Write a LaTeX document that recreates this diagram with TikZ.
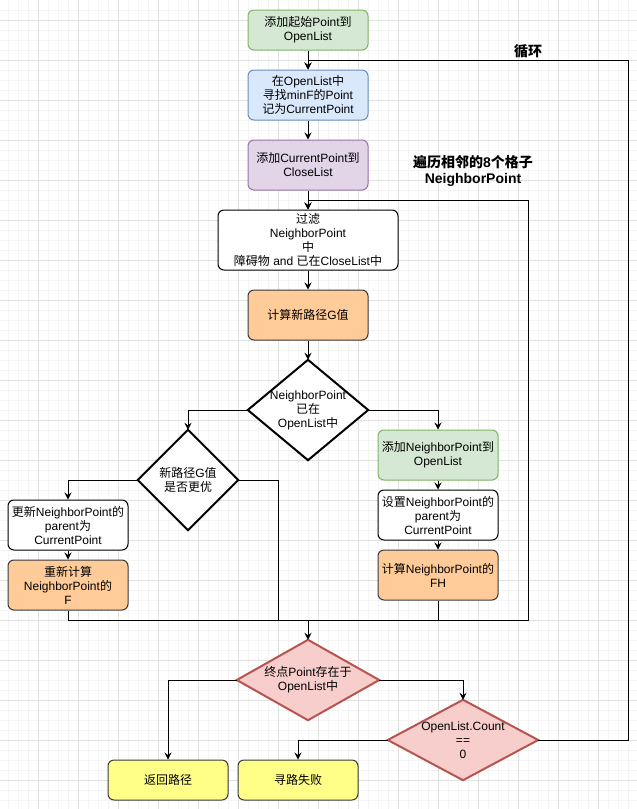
\documentclass[tikz,border=0pt]{standalone}
\usepackage{fontspec}
\setmainfont{Liberation Sans}
\newfontfamily\cjkfont{Noto Sans CJK SC}
\newfontfamily\latfont{Liberation Sans}
\XeTeXinterchartokenstate=1
\newXeTeXintercharclass\cjkcls
\newcount\cjkc
\cjkc="4E00
\loop
  \XeTeXcharclass\cjkc=\cjkcls
  \ifnum\cjkc<"9FFF \advance\cjkc by 1
\repeat
\XeTeXinterchartoks 0 \cjkcls = {\cjkfont}
\XeTeXinterchartoks 4095 \cjkcls = {\cjkfont}
\XeTeXinterchartoks \cjkcls 0 = {\latfont}
\XeTeXinterchartoks \cjkcls 4095 = {\latfont}
\usetikzlibrary{arrows.meta}
\pgfdeclarelayer{gridlayer}
\pgfdeclarelayer{bglayer}
\pgfsetlayers{gridlayer,bglayer,main}
\definecolor{gfill}{HTML}{D5E8D4}\definecolor{gline}{HTML}{82B366}
\definecolor{bfill}{HTML}{DAE8FC}\definecolor{bline}{HTML}{6C8EBF}
\definecolor{pfill}{HTML}{E1D5E7}\definecolor{pline}{HTML}{9673A6}
\definecolor{ofill}{HTML}{FFCC99}\definecolor{dline}{HTML}{36393D}
\definecolor{yfill}{HTML}{FFFF88}
\definecolor{rfill}{HTML}{F8CECC}\definecolor{rline}{HTML}{B85450}
\definecolor{gminor}{HTML}{F4F4F4}\definecolor{gmajor}{HTML}{E0E0E0}
\begin{document}
\begin{tikzpicture}[x=1pt,y=-1pt,
  box/.style={rectangle,rounded corners=6pt,draw,line width=1pt,minimum width=120pt,minimum height=50pt,inner sep=2pt,align=center,font=\fontsize{12}{14}\selectfont,text=black},
  greenbox/.style={box,fill=gfill,draw=gline},
  bluebox/.style={box,fill=bfill,draw=bline},
  purplebox/.style={box,fill=pfill,draw=pline},
  orangebox/.style={box,fill=ofill,draw=dline},
  whitebox/.style={box,fill=white,draw=black},
  yellowbox/.style={box,fill=yfill,draw=dline,minimum height=40pt},
  dtext/.style={rectangle,inner sep=0pt,align=center,font=\fontsize{12}{14}\selectfont,text=black},
  diamblack/.style={draw=black,fill=white,line width=2pt},
  diamred/.style={draw=rline,fill=rfill,line width=2pt},
  conn/.style={draw=black,line width=1pt},
  arr/.style={conn,-{Stealth[length=7pt,width=7pt,inset=2.5pt]}},
  lbl/.style={font=\bfseries\fontsize{14}{16}\selectfont,align=center,inner sep=0pt},
  gridminor/.style={draw=gminor,line width=1pt},
  gridmajor/.style={draw=gmajor,line width=1pt}
]
\useasboundingbox (0,0) rectangle (637,809);
\begin{pgfonlayer}{gridlayer}
  \fill[white] (0,0) rectangle (637,809);
  \foreach \i in {1,...,64} \draw[gridminor] ({\i*10-2},0) -- ({\i*10-2},809);
  \foreach \j in {1,...,80} \draw[gridminor] (0,{\j*10}) -- (637,{\j*10});
  \foreach \i in {0,...,15} \draw[gridmajor] ({\i*40-2},0) -- ({\i*40-2},809);
  \foreach \j in {0,...,19} \draw[gridmajor] (0,{\j*40+20}) -- (637,{\j*40+20});
\end{pgfonlayer}

% nodes
\node[greenbox,minimum height=40pt] (n1) at (308,30) {添加起始Point到\\OpenList};
\node[bluebox] (n2) at (308,95) {在OpenList中\\寻找minF的Point\\记为CurrentPoint};
\node[purplebox] (n3) at (308,165) {添加CurrentPoint到\\CloseList};
\node[whitebox,minimum width=180pt,minimum height=60pt] (n4) at (308,240) {过滤\\NeighborPoint\\中\\障碍物 and 已在CloseList中};
\node[orangebox] (n5) at (308,315) {计算新路径G值};
\node[dtext,minimum width=120pt,minimum height=100pt] (d1) at (308,410) {NeighborPoint\\已在\\OpenList中};
\node[dtext,minimum width=100pt,minimum height=100pt] (d2) at (188,480) {新路径G值\\是否更优};
\node[whitebox] (n6) at (68,525) {更新NeighborPoint的\\parent为\\CurrentPoint};
\node[orangebox] (n7) at (68,585) {重新计算\\NeighborPoint的\\F};
\node[greenbox] (n8) at (438,455) {添加NeighborPoint到\\OpenList};
\node[whitebox] (n9) at (438,515) {设置NeighborPoint的\\parent为\\CurrentPoint};
\node[orangebox] (n10) at (438,575) {计算NeighborPoint的\\FH};
\node[dtext,minimum width=142pt,minimum height=80pt] (d3) at (308,680) {终点Point存在于\\OpenList中};
\node[dtext,minimum width=150pt,minimum height=80pt] (d4) at (463,740) {OpenList.Count\\==\\0};
\node[yellowbox] (y1) at (168,780) {返回路径};
\node[yellowbox] (y2) at (298,780) {寻路失败};

\node[lbl] (lab1) at (528,51) {循环};
\node[lbl] (lab2) at (473,171) {遍历相邻的8个格子\\NeighborPoint};

\begin{pgfonlayer}{bglayer}
  \draw[diamblack] (d1.north) -- (d1.east) -- (d1.south) -- (d1.west) -- cycle;
  \draw[diamblack] (d2.north) -- (d2.east) -- (d2.south) -- (d2.west) -- cycle;
  \draw[diamred] (d3.north) -- (d3.east) -- (d3.south) -- (d3.west) -- cycle;
  \draw[diamred] (d4.north) -- (d4.east) -- (d4.south) -- (d4.west) -- cycle;
\end{pgfonlayer}

% coordinates for routing
\coordinate (loopR) at (628,60);
\coordinate (loopT) at (528,200);
\coordinate (mR) at (528,620);
\coordinate (mG) at (278,620);

% connectors
\draw[arr] (n1) -- (n2);
\draw[arr] (d4.east) -| (loopR) -| (n2.north);
\draw[arr] (n2) -- (n3);
\draw[arr] (n3.south) -- (n4.north);
\draw[arr] (n4) -- (n5);
\draw[arr] (n5.south) -- (d1.north);
\draw[arr] (d1.west) -| (d2.north);
\draw[arr] (d1.east) -| (n8.north);
\draw[arr] (d2.west) -| (n6.north);
\draw[arr] (n6) -- (n7);
\draw[arr] (n8) -- (n9);
\draw[arr] (n9) -- (n10);
\draw[arr] (n7.south) |- (mR) -- (loopT) -| (n4.north);
\draw[conn] (d2.east) -| (mG);
\draw[conn] (n10.south) -- (n10.south |- mR);
\draw[arr] (d3.north |- mR) -- (d3.north);
\draw[arr] (d3.west) -| (y1.north);
\draw[arr] (d3.east) -| (d4.north);
\draw[arr] (d4.west) -| (y2.north);
\end{tikzpicture}
\end{document}
